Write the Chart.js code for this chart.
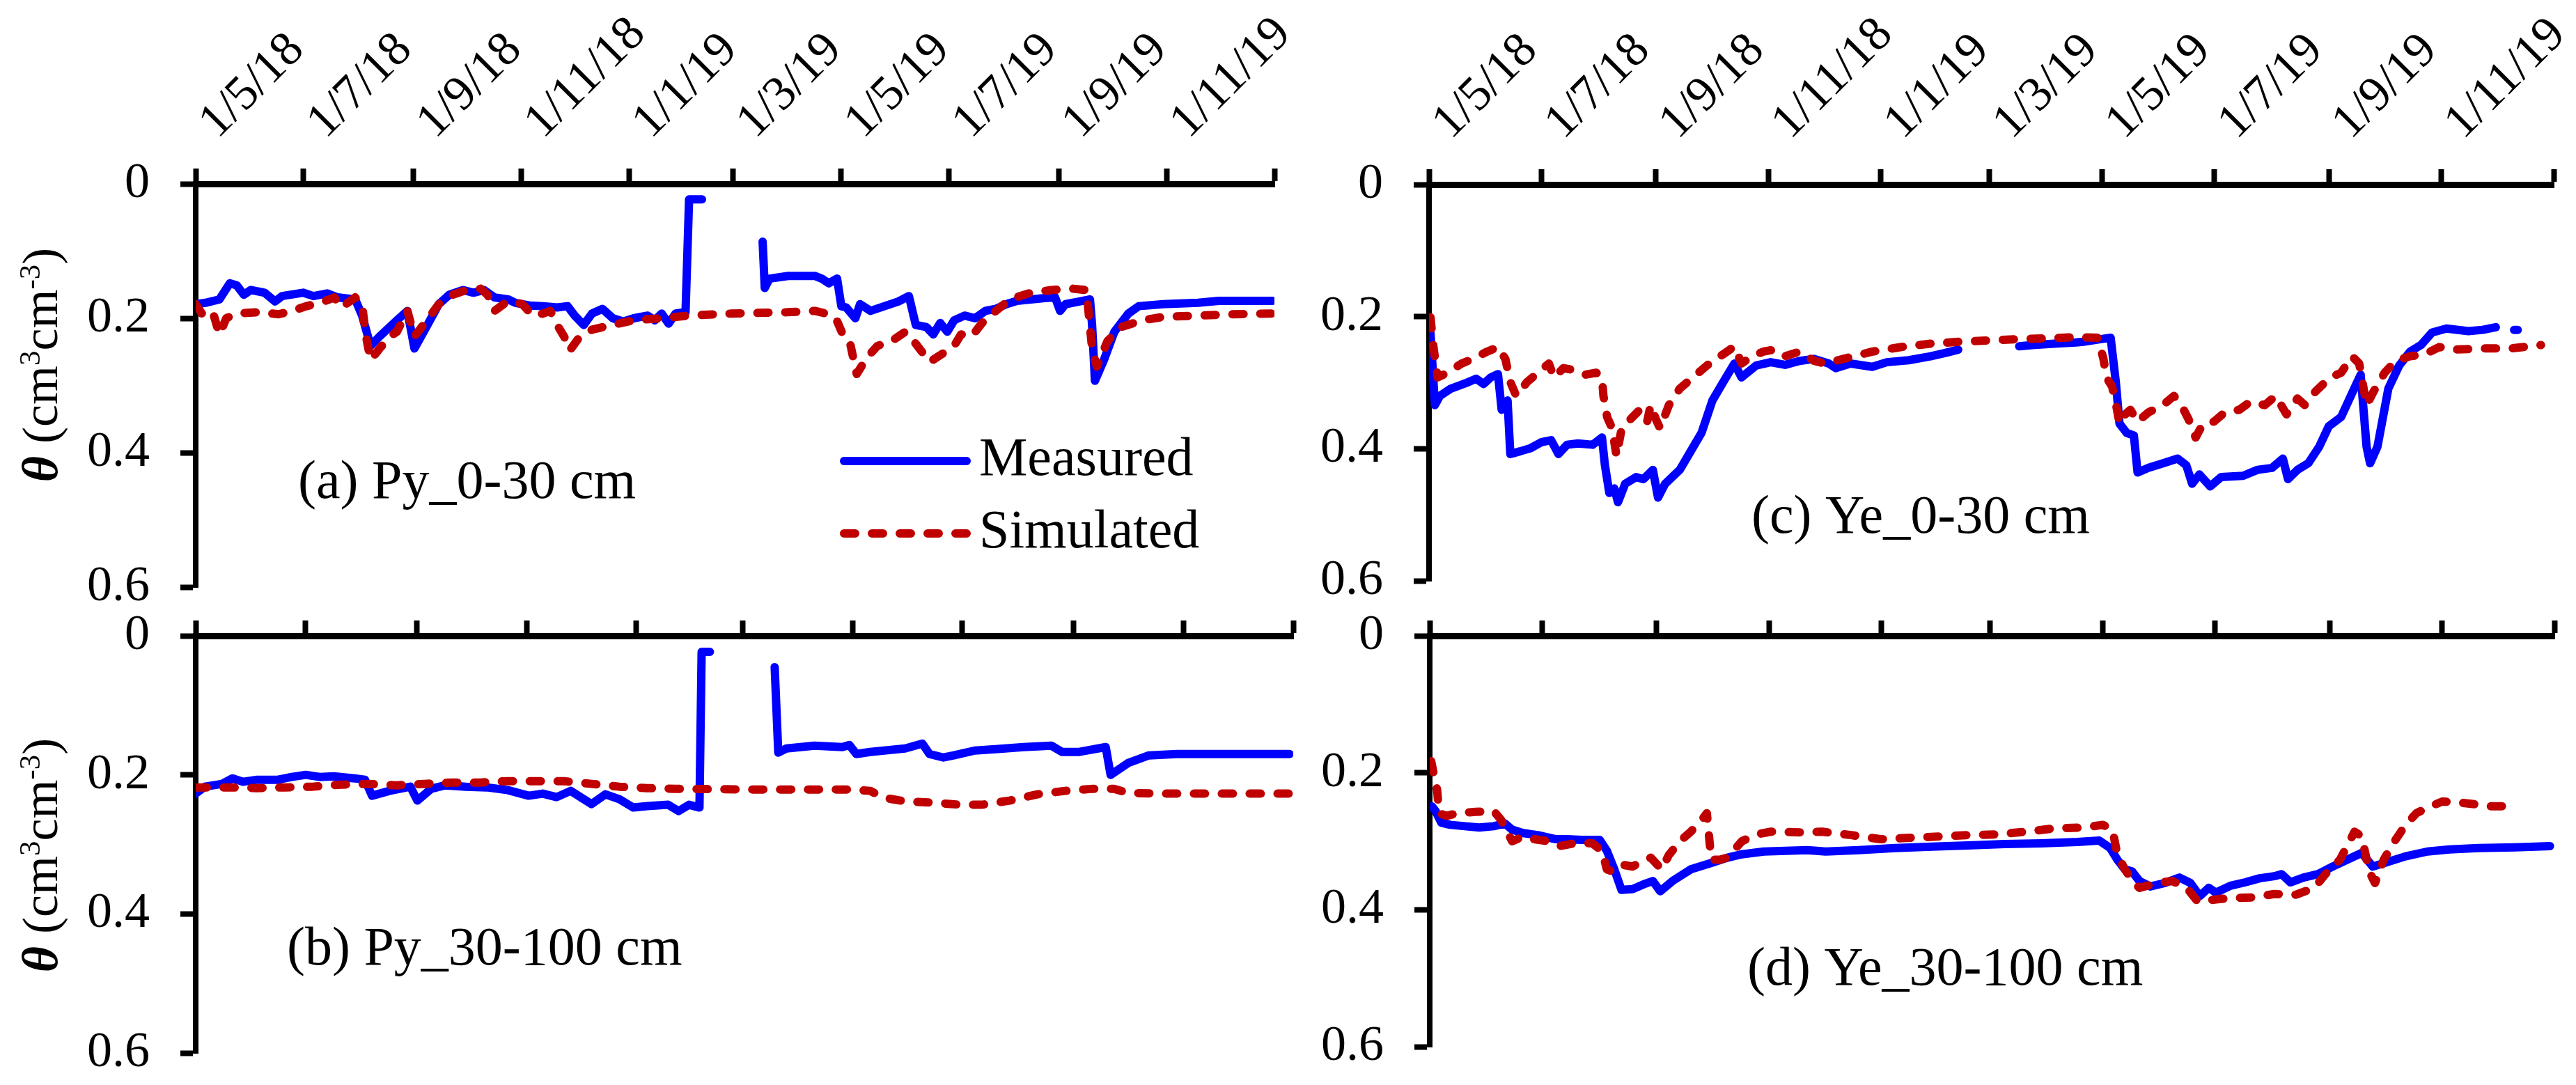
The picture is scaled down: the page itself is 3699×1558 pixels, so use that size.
<!DOCTYPE html>
<html>
<head>
<meta charset="utf-8">
<script src="https://cdn.jsdelivr.net/npm/chart.js@4.4.1/dist/chart.umd.min.js"></script>
<style>
  html, body { margin: 0; padding: 0; background: #fff; }
  body { width: 3699px; height: 1558px; position: relative; overflow: hidden; }
  canvas { position: absolute; }
</style>
</head>
<body>
<canvas id="pa"></canvas>
<canvas id="pb"></canvas>
<canvas id="pc"></canvas>
<canvas id="pd"></canvas>
<script>
const FONT = "'Liberation Serif', 'Times New Roman', serif";

// x axis: days counted from 1 May 2018
const xTickDays = [0, 61, 123, 184, 245, 304, 365, 426, 488, 549, 610];
const xTickLabels = ['1/5/18', '1/7/18', '1/9/18', '1/11/18', '1/1/19', '1/3/19', '1/5/19', '1/7/19', '1/9/19', '1/11/19', ''];
const yTickValues = [0, 0.2, 0.4, 0.6];
const yTickLabels = ['0', '0.2', '0.4', '0.6'];
const seriesNames = ['Measured', 'Simulated'];
const panelNames = ['(a) Py_0-30 cm', '(b) Py_30-100 cm', '(c) Ye_0-30 cm', '(d) Ye_30-100 cm'];

// (a) Py 0-30 cm
const aMeasDay = [0, 5.5, 13.4, 19.3, 23.2, 27.2, 31.1, 39, 44.9, 48.8, 60.7, 66.6, 74.4, 80.3, 90.2, 94.1, 98.9, 104, 113.8, 119.7, 123.7, 129.6, 137.5, 143.4, 151.2, 157.1, 163, 169, 176.8, 180.8, 188.7, 196.5, 204.4, 210.3, 214.3, 219.4, 224.1, 230, 235.9, 241.8, 247.7, 255.6, 259.6, 263.5, 267.4, 271.4, 277, 279, 286.3, 300, 320.6, 321.8, 324.5, 335, 350.1, 354, 358, 362.7, 365.1, 367.9, 373, 375.7, 381.6, 389.5, 397.4, 403.3, 407.2, 413.2, 417.1, 421, 425, 428.9, 434.8, 440.7, 446.6, 452.5, 458.4, 464.4, 472.2, 480.1, 486, 488.8, 491.9, 499.8, 505.7, 506.9, 508.5, 513.6, 519.5, 527.4, 533.3, 547.1, 566.8, 578.6, 594.3, 608.9];
const aMeasVal = [0.179, 0.177, 0.172, 0.148, 0.151, 0.165, 0.158, 0.162, 0.175, 0.167, 0.162, 0.167, 0.163, 0.169, 0.172, 0.196, 0.241, 0.227, 0.203, 0.189, 0.245, 0.217, 0.179, 0.165, 0.158, 0.162, 0.158, 0.169, 0.172, 0.177, 0.181, 0.182, 0.184, 0.182, 0.196, 0.210, 0.193, 0.186, 0.200, 0.205, 0.200, 0.196, 0.203, 0.193, 0.208, 0.193, 0.191, 0.023, 0.023, null, 0.086, 0.155, 0.141, 0.137, 0.137, 0.141, 0.148, 0.141, 0.182, 0.184, 0.200, 0.179, 0.189, 0.182, 0.175, 0.167, 0.210, 0.213, 0.224, 0.207, 0.220, 0.203, 0.196, 0.200, 0.189, 0.186, 0.179, 0.174, 0.172, 0.170, 0.169, 0.189, 0.179, 0.175, 0.172, 0.210, 0.293, 0.262, 0.220, 0.193, 0.182, 0.179, 0.177, 0.174, 0.174, 0.174];
const aSimDay = [0, 3.5, 9.5, 13.4, 17.3, 23.2, 35.1, 46.9, 54.7, 62.6, 70.5, 78.4, 82.3, 90.2, 94.1, 96.1, 98.9, 104, 109.9, 113.8, 119.7, 123.7, 129.6, 137.5, 145.3, 153.2, 161.1, 165, 169, 176.8, 184.7, 190.6, 196.5, 200.5, 204.4, 208.3, 211.5, 216.2, 224.1, 232, 247.7, 263.5, 279.2, 302.9, 334.4, 350.1, 358, 362, 365.9, 369.8, 373.8, 379.7, 385.6, 393.5, 401.3, 407.2, 415.1, 421, 428.9, 432.8, 438.8, 444.7, 452.5, 460.4, 472.2, 484, 495.9, 503.7, 506.9, 509.6, 515.6, 523.4, 535.3, 547.1, 566.8, 586.5, 608.9];
const aSimVal = [0.179, 0.193, 0.189, 0.224, 0.200, 0.193, 0.191, 0.194, 0.189, 0.182, 0.177, 0.169, 0.184, 0.169, 0.179, 0.224, 0.262, 0.245, 0.227, 0.220, 0.189, 0.227, 0.207, 0.179, 0.165, 0.158, 0.156, 0.165, 0.189, 0.174, 0.179, 0.196, 0.193, 0.189, 0.210, 0.227, 0.248, 0.231, 0.217, 0.212, 0.203, 0.200, 0.196, 0.193, 0.191, 0.189, 0.194, 0.200, 0.224, 0.234, 0.283, 0.258, 0.241, 0.234, 0.220, 0.238, 0.265, 0.255, 0.241, 0.224, 0.227, 0.207, 0.189, 0.172, 0.162, 0.158, 0.156, 0.158, 0.245, 0.272, 0.234, 0.213, 0.203, 0.198, 0.196, 0.194, 0.193];

// (b) Py 30-100 cm
const bMeasDay = [0, 5, 14.7, 20.5, 26.3, 34.1, 45.7, 53.4, 61.2, 68.9, 76.7, 88.3, 94.1, 98, 107.7, 119.3, 123.2, 130.9, 138.7, 150.3, 161.9, 173.5, 185.1, 192.9, 200.6, 208.4, 220, 227.7, 235.5, 243.2, 251, 262.6, 268.4, 274.2, 280, 281.2, 285.8, 300, 321.8, 323.8, 328.4, 343.9, 359.4, 363.3, 367.2, 374.9, 382.6, 394.3, 403.9, 407.8, 415.6, 421.4, 433, 444.6, 460.1, 475.6, 481.4, 491.1, 505.8, 508.5, 518.2, 529.8, 545.3, 576.3, 608];
const bMeasVal = [0.227, 0.217, 0.213, 0.205, 0.210, 0.207, 0.207, 0.203, 0.200, 0.203, 0.202, 0.205, 0.207, 0.230, 0.223, 0.217, 0.237, 0.220, 0.215, 0.217, 0.218, 0.222, 0.230, 0.227, 0.232, 0.223, 0.242, 0.228, 0.235, 0.247, 0.245, 0.243, 0.252, 0.243, 0.247, 0.023, 0.023, null, 0.045, 0.168, 0.162, 0.158, 0.160, 0.157, 0.170, 0.167, 0.165, 0.162, 0.155, 0.170, 0.175, 0.172, 0.165, 0.163, 0.160, 0.158, 0.167, 0.167, 0.160, 0.200, 0.183, 0.172, 0.170, 0.170, 0.170];
const bSimDay = [0, 18.6, 34.1, 49.6, 65, 80.6, 96, 111.5, 127, 142.5, 158, 173.5, 189, 204.5, 220, 235.5, 251, 266.5, 305.2, 343.9, 363.3, 374.9, 382.6, 394.3, 409.8, 425.2, 436.9, 452.4, 467.8, 483.3, 498.8, 510.4, 518.2, 537.6, 576.3, 608];
const bSimVal = [0.218, 0.218, 0.219, 0.218, 0.217, 0.214, 0.213, 0.215, 0.213, 0.211, 0.211, 0.209, 0.209, 0.209, 0.213, 0.217, 0.219, 0.220, 0.221, 0.221, 0.221, 0.223, 0.233, 0.238, 0.240, 0.243, 0.243, 0.237, 0.228, 0.223, 0.220, 0.220, 0.226, 0.227, 0.227, 0.227];

// (c) Ye 0-30 cm
const cMeasDay = [0.8, 3.2, 5.9, 11.8, 19.7, 25.6, 29.6, 33.5, 37.4, 39.4, 42.6, 44.1, 49.3, 55.2, 61.1, 66.2, 70.2, 74.9, 80.8, 88.7, 93.8, 95.4, 97.8, 100.5, 102.5, 106.4, 112.3, 116.3, 121.4, 124.2, 128.1, 136, 141.9, 147.8, 153.7, 159.6, 165.6, 169.5, 177.4, 185.3, 193.1, 201, 208.9, 216.8, 220.7, 228.6, 240.4, 248.3, 260.2, 272, 279.9, 287, 300, 320.1, 327.2, 339, 350.8, 354.8, 364.6, 369.7, 372.5, 374.5, 378.4, 382.3, 384.3, 390.2, 398.1, 406, 410.7, 413.9, 417.8, 423.7, 429.6, 441.5, 449.4, 457.2, 463.1, 465.9, 471, 476.9, 482.8, 488, 494.7, 500.6, 505.3, 508.5, 510.4, 514.4, 520.3, 526.2, 532.1, 538, 544, 551.8, 563.7, 571.5, 578.6, 583, 588.5, 590.5];
const cMeasVal = [0.225, 0.334, 0.320, 0.309, 0.301, 0.294, 0.302, 0.292, 0.287, 0.341, 0.327, 0.408, 0.404, 0.399, 0.390, 0.387, 0.408, 0.394, 0.392, 0.394, 0.383, 0.425, 0.467, 0.460, 0.481, 0.453, 0.443, 0.446, 0.432, 0.474, 0.453, 0.432, 0.404, 0.376, 0.327, 0.299, 0.271, 0.292, 0.274, 0.269, 0.273, 0.267, 0.264, 0.271, 0.278, 0.271, 0.276, 0.269, 0.266, 0.260, 0.255, 0.250, null, 0.245, 0.243, 0.241, 0.239, 0.238, 0.234, 0.232, 0.299, 0.362, 0.376, 0.380, 0.436, 0.429, 0.422, 0.415, 0.425, 0.453, 0.439, 0.457, 0.443, 0.441, 0.432, 0.429, 0.415, 0.446, 0.432, 0.422, 0.397, 0.366, 0.352, 0.316, 0.288, 0.397, 0.422, 0.397, 0.309, 0.274, 0.253, 0.243, 0.224, 0.218, 0.222, 0.220, 0.216, null, 0.220, 0.220];
const cSimDay = [0.8, 2.4, 4.7, 9.9, 17.7, 23.7, 31.5, 37.4, 41.4, 44.1, 47.3, 53.2, 59.1, 65, 67.8, 72.9, 78.8, 84.7, 90.7, 93.8, 94.6, 96.6, 99.3, 101.7, 104.5, 110.4, 114.3, 118.3, 120.2, 123, 125.3, 130.1, 136, 141.9, 147.8, 153.7, 159.6, 165.6, 169.5, 175.4, 181.3, 187.2, 193.1, 201, 208.9, 214.8, 224.7, 240.4, 256.2, 272, 287.7, 303.5, 319.3, 335, 350.8, 362.6, 365.8, 367.4, 370.5, 372.5, 374.5, 377.6, 380.4, 384.3, 390.2, 398.1, 404, 408, 411.9, 415.8, 419.8, 425.7, 431.6, 439.5, 445.4, 453.3, 459.2, 465.1, 471, 475, 480.9, 488.8, 494.7, 500.6, 504.5, 508.5, 512.4, 518.3, 524.2, 532.1, 540, 547.9, 555.8, 571.5, 587.3, 603.1];
const cSimVal = [0.201, 0.246, 0.292, 0.285, 0.271, 0.264, 0.253, 0.246, 0.264, 0.299, 0.320, 0.299, 0.285, 0.271, 0.292, 0.278, 0.281, 0.288, 0.285, 0.292, 0.320, 0.352, 0.369, 0.411, 0.369, 0.352, 0.341, 0.359, 0.334, 0.355, 0.369, 0.334, 0.309, 0.295, 0.281, 0.267, 0.257, 0.245, 0.271, 0.260, 0.253, 0.250, 0.260, 0.253, 0.267, 0.271, 0.264, 0.253, 0.246, 0.241, 0.238, 0.236, 0.234, 0.233, 0.231, 0.232, 0.264, 0.292, 0.306, 0.331, 0.362, 0.348, 0.341, 0.359, 0.345, 0.334, 0.320, 0.334, 0.355, 0.383, 0.362, 0.359, 0.345, 0.341, 0.329, 0.334, 0.320, 0.348, 0.324, 0.334, 0.313, 0.292, 0.285, 0.260, 0.271, 0.334, 0.313, 0.285, 0.267, 0.260, 0.257, 0.246, 0.250, 0.248, 0.248, 0.243];

// (d) Ye 30-100 cm
const dMeasDay = [1.2, 3.2, 6.3, 11.1, 19, 26.9, 34.8, 40.7, 44.7, 50.6, 58.5, 68.4, 74.4, 82.3, 92.2, 96.1, 100.1, 104, 110, 115.9, 121, 125, 131.7, 141.6, 153.5, 161.4, 169.3, 181.2, 193, 204.9, 214.8, 232.6, 252.4, 272.2, 291.9, 311.7, 331.5, 351.3, 363.1, 369.1, 373, 377, 380.9, 384.9, 390.8, 398.7, 406.6, 412.6, 417.7, 422.5, 426.4, 434.3, 442.2, 450.2, 458.1, 462, 466.8, 473.9, 481.8, 489.7, 497.6, 505.5, 511.5, 517.4, 529.3, 541.1, 553, 568.8, 588.6, 607.6];
const dMeasVal = [0.249, 0.256, 0.273, 0.276, 0.278, 0.280, 0.278, 0.274, 0.283, 0.288, 0.291, 0.297, 0.297, 0.298, 0.298, 0.314, 0.341, 0.371, 0.370, 0.363, 0.358, 0.373, 0.358, 0.341, 0.331, 0.324, 0.319, 0.315, 0.314, 0.313, 0.315, 0.313, 0.310, 0.308, 0.306, 0.304, 0.303, 0.301, 0.299, 0.310, 0.327, 0.341, 0.344, 0.358, 0.366, 0.361, 0.353, 0.361, 0.380, 0.368, 0.375, 0.365, 0.360, 0.354, 0.351, 0.348, 0.360, 0.353, 0.348, 0.337, 0.327, 0.317, 0.337, 0.332, 0.322, 0.315, 0.312, 0.310, 0.309, 0.307];
const dSimDay = [0.8, 2.4, 4, 5.1, 9.1, 15, 24.9, 34.8, 38.8, 44.7, 50.6, 56.6, 64.5, 70.4, 80.3, 88.2, 93.4, 96.1, 98.9, 104, 110, 113.9, 119.9, 125.8, 129.7, 135.7, 141.6, 147.5, 150.3, 152.7, 157.4, 161.4, 169.3, 177.2, 185.1, 201, 212.8, 228.6, 244.5, 260.3, 276.1, 291.9, 307.8, 323.6, 339.4, 355.2, 365.1, 370.3, 373, 377, 382.1, 384.9, 394.8, 402.7, 410.6, 416.5, 426.4, 434.3, 446.2, 458.1, 469.9, 479.8, 485.8, 493.7, 501.6, 505.5, 509.5, 512.7, 517.4, 523.3, 529.3, 535.2, 541.1, 549.1, 557, 566.9, 574.8, 588.6];
const dSimVal = [0.183, 0.205, 0.225, 0.259, 0.263, 0.259, 0.257, 0.256, 0.269, 0.300, 0.293, 0.297, 0.300, 0.307, 0.302, 0.303, 0.314, 0.341, 0.344, 0.334, 0.337, 0.331, 0.324, 0.341, 0.320, 0.300, 0.286, 0.269, 0.259, 0.327, 0.327, 0.324, 0.300, 0.290, 0.286, 0.287, 0.286, 0.291, 0.297, 0.295, 0.293, 0.291, 0.290, 0.286, 0.281, 0.280, 0.276, 0.283, 0.320, 0.341, 0.361, 0.368, 0.361, 0.358, 0.368, 0.388, 0.385, 0.383, 0.382, 0.377, 0.378, 0.368, 0.348, 0.327, 0.286, 0.293, 0.344, 0.361, 0.327, 0.300, 0.276, 0.259, 0.251, 0.242, 0.243, 0.246, 0.249, 0.249];

const toPoints = (days, vals) => days.map((d, i) => ({ x: d, y: vals[i] }));

// panel label, legend and y axis title
const panelText = {
  id: 'panelText',
  afterDraw(chart, args, o) {
    const ctx = chart.ctx;
    ctx.save();
    ctx.fillStyle = '#000';
    ctx.textAlign = 'left';
    ctx.textBaseline = 'middle';
    ctx.font = '78px ' + FONT;
    ctx.fillText(o.label, o.labelX, o.labelY);

    if (o.legend) {
      chart.data.datasets.forEach((ds, i) => {
        const y = o.legend.y[i];
        ctx.save();
        ctx.strokeStyle = ds.borderColor;
        ctx.lineWidth = ds.borderWidth;
        ctx.lineCap = 'round';
        ctx.setLineDash(ds.borderDash || []);
        ctx.beginPath();
        ctx.moveTo(o.legend.x0, y);
        ctx.lineTo(o.legend.x1, y);
        ctx.stroke();
        ctx.restore();
        ctx.fillText(ds.label, o.legend.tx, y);
      });
    }

    if (o.yTitle) {
      const big = 72, small = 43;
      const parts = [
        { t: 'θ', f: 'italic bold ' + big + 'px ' + FONT, dy: 0 },
        { t: ' (cm', f: big + 'px ' + FONT, dy: 0 },
        { t: '3', f: small + 'px ' + FONT, dy: -25 },
        { t: 'cm', f: big + 'px ' + FONT, dy: 0 },
        { t: '-3', f: small + 'px ' + FONT, dy: -25 },
        { t: ')', f: big + 'px ' + FONT, dy: 0 }
      ];
      let total = 0;
      parts.forEach(p => { ctx.font = p.f; p.w = ctx.measureText(p.t).width; total += p.w; });
      ctx.translate(o.yTitle.x, o.yTitle.y);
      ctx.rotate(-Math.PI / 2);
      ctx.textBaseline = 'alphabetic';
      let x = -total / 2;
      parts.forEach(p => { ctx.font = p.f; ctx.fillText(p.t, x, p.dy); x += p.w; });
    }
    ctx.restore();
  }
};

function makePanel(id, f, meas, sim, text, showDates) {
  const cv = document.getElementById(id);
  cv.width = f.w; cv.height = f.h;
  cv.style.left = f.left + 'px'; cv.style.top = f.top + 'px';
  cv.style.width = f.w + 'px'; cv.style.height = f.h + 'px';

  const axisGrid = { drawOnChartArea: false, drawTicks: true, tickLength: 22, tickWidth: 8, tickColor: '#000', color: '#000' };

  return new Chart(cv, {
    type: 'line',
    data: {
      datasets: [
        { label: seriesNames[0], data: meas, borderColor: '#0000FF', borderWidth: 12,
          pointRadius: 0, tension: 0, borderJoinStyle: 'round', borderCapStyle: 'round', order: 2 },
        { label: seriesNames[1], data: sim, borderColor: '#C00000', borderWidth: 12, borderDash: [16, 24],
          pointRadius: 0, tension: 0, borderJoinStyle: 'round', borderCapStyle: 'round', order: 1 }
      ]
    },
    options: {
      responsive: false,
      animation: false,
      devicePixelRatio: 1,
      events: [],
      layout: { padding: { left: 0, top: 0, right: f.w - f.r, bottom: f.h - f.b } },
      plugins: { legend: { display: false }, tooltip: { enabled: false }, panelText: text },
      scales: {
        x: {
          type: 'linear', position: 'top', min: 0, max: 610,
          afterBuildTicks: s => { s.ticks = xTickDays.map(v => ({ value: v })); },
          afterFit: s => { s.height = f.t; s.paddingLeft = 0; s.paddingRight = 0; },
          grid: axisGrid,
          border: { display: true, color: '#000', width: 9 },
          ticks: {
            display: showDates, autoSkip: false, minRotation: 45, maxRotation: 45,
            padding: 25, labelOffset: 78, color: '#000',
            font: { family: FONT, size: 70 },
            callback: (v, i) => xTickLabels[i]
          }
        },
        y: {
          type: 'linear', position: 'left', reverse: true, min: 0, max: 0.6,
          afterBuildTicks: s => { s.ticks = yTickValues.map(v => ({ value: v })); },
          afterFit: s => { s.width = f.l; s.paddingTop = 0; s.paddingBottom = 0; },
          grid: axisGrid,
          border: { display: true, color: '#000', width: 8 },
          ticks: {
            padding: 44, color: '#000',
            font: { family: FONT, size: 72 },
            callback: (v, i) => yTickLabels[i]
          }
        }
      }
    },
    plugins: [panelText]
  });
}

makePanel('pa', { left: 0, top: 0, w: 1850, h: 880, l: 281, r: 1830, t: 264, b: 843 },
  toPoints(aMeasDay, aMeasVal), toPoints(aSimDay, aSimVal),
  { label: panelNames[0], labelX: 428, labelY: 695,
    legend: { x0: 1212, x1: 1388, tx: 1406, y: [662, 766] },
    yTitle: { x: 82, y: 524 } }, true);

makePanel('pb', { left: 0, top: 880, w: 1880, h: 678, l: 281, r: 1857, t: 33, b: 632 },
  toPoints(bMeasDay, bMeasVal), toPoints(bSimDay, bSimVal),
  { label: panelNames[1], labelX: 412, labelY: 485,
    yTitle: { x: 82, y: 348 } }, false);

makePanel('pc', { left: 1860, top: 0, w: 1839, h: 880, l: 192, r: 1807, t: 265, b: 834 },
  toPoints(cMeasDay, cMeasVal), toPoints(cSimDay, cSimVal),
  { label: panelNames[2], labelX: 655, labelY: 745 }, true);

makePanel('pd', { left: 1860, top: 880, w: 1839, h: 678, l: 193, r: 1808, t: 33, b: 623 },
  toPoints(dMeasDay, dMeasVal), toPoints(dSimDay, dSimVal),
  { label: panelNames[3], labelX: 649, labelY: 514 }, false);
</script>
</body>
</html>
